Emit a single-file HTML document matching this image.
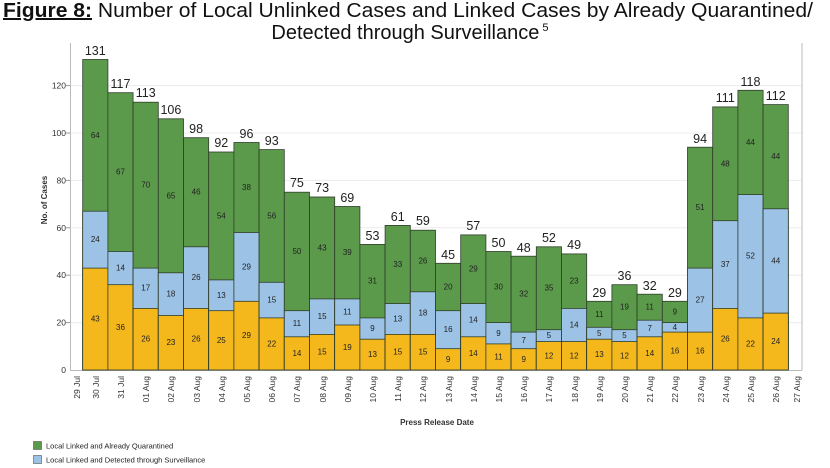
<!DOCTYPE html>
<html><head><meta charset="utf-8"><style>
html,body{margin:0;padding:0;background:#fff;}
svg{display:block;font-family:"Liberation Sans",sans-serif;}
.g{fill:#5b9a4b;stroke:#2f3d2a;stroke-width:0.8}
.b{fill:#9cc2e5;stroke:#2f3d2a;stroke-width:0.8}
.y{fill:#f5b81c;stroke:#2f3d2a;stroke-width:0.8}
.s{font-size:8px;fill:#222;text-anchor:middle;dominant-baseline:central}
.t{font-size:12.5px;fill:#222;text-anchor:middle}
.ax{font-size:8.5px;fill:#333}
</style></head><body>
<svg width="830" height="468" viewBox="0 0 830 468">
<text x="3" y="17" font-size="20" fill="#111" textLength="810" lengthAdjust="spacingAndGlyphs"><tspan font-weight="bold" text-decoration="underline">Figure 8:</tspan> Number of Local Unlinked Cases and Linked Cases by Already Quarantined/</text>
<text x="410" y="39" font-size="20" fill="#111" text-anchor="middle">Detected through Surveillance<tspan font-size="11" dy="-8"> 5</tspan></text>
<g stroke="#ececec" stroke-width="1">
<line x1="70" x2="802" y1="322.6" y2="322.6"/><line x1="70" x2="802" y1="275.2" y2="275.2"/>
<line x1="70" x2="802" y1="227.8" y2="227.8"/><line x1="70" x2="802" y1="180.4" y2="180.4"/>
<line x1="70" x2="802" y1="133" y2="133"/><line x1="70" x2="802" y1="85.6" y2="85.6"/>
</g>
<line x1="70.5" y1="43" x2="70.5" y2="370" stroke="#bbb"/>
<line x1="802" y1="43" x2="802" y2="370" stroke="#bbb"/>
<line x1="70" y1="370.5" x2="802" y2="370.5" stroke="#bbb"/>
<g class="ax" text-anchor="end">
<text x="66" y="373">0</text><text x="66" y="325.6">20</text><text x="66" y="278.2">40</text>
<text x="66" y="230.8">60</text><text x="66" y="183.4">80</text><text x="66" y="136">100</text><text x="66" y="88.6">120</text>
</g>
<g stroke="#999"><line x1="66" x2="70" y1="322.6" y2="322.6"/><line x1="66" x2="70" y1="275.2" y2="275.2"/><line x1="66" x2="70" y1="227.8" y2="227.8"/><line x1="66" x2="70" y1="180.4" y2="180.4"/><line x1="66" x2="70" y1="133" y2="133"/><line x1="66" x2="70" y1="85.6" y2="85.6"/></g>
<text transform="translate(47,200) rotate(-90)" font-size="8" font-weight="bold" fill="#333" text-anchor="middle">No. of Cases</text>

<g transform="translate(82.7,370)"><rect class="g" y="-310.5" width="25.2" height="310.5"/><rect class="b" y="-158.8" width="25.2" height="158.8"/><rect class="y" y="-101.9" width="25.2" height="101.9"/><text class="s" x="12.6" y="-50.9">43</text><text class="s" x="12.6" y="-130.4">24</text><text class="s" x="12.6" y="-234.7">64</text><text class="t" x="12.6" y="-315">131</text></g>
<g transform="translate(107.9,370)"><rect class="g" y="-277.3" width="25.2" height="277.3"/><rect class="b" y="-118.5" width="25.2" height="118.5"/><rect class="y" y="-85.3" width="25.2" height="85.3"/><text class="s" x="12.6" y="-42.7">36</text><text class="s" x="12.6" y="-101.9">14</text><text class="s" x="12.6" y="-197.9">67</text><text class="t" x="12.6" y="-282">117</text></g>
<g transform="translate(133.1,370)"><rect class="g" y="-267.8" width="25.2" height="267.8"/><rect class="b" y="-101.9" width="25.2" height="101.9"/><rect class="y" y="-61.6" width="25.2" height="61.6"/><text class="s" x="12.6" y="-30.8">26</text><text class="s" x="12.6" y="-81.8">17</text><text class="s" x="12.6" y="-184.9">70</text><text class="t" x="12.6" y="-273">113</text></g>
<g transform="translate(158.3,370)"><rect class="g" y="-251.2" width="25.2" height="251.2"/><rect class="b" y="-97.2" width="25.2" height="97.2"/><rect class="y" y="-54.5" width="25.2" height="54.5"/><text class="s" x="12.6" y="-27.3">23</text><text class="s" x="12.6" y="-75.9">18</text><text class="s" x="12.6" y="-174.2">65</text><text class="t" x="12.6" y="-256">106</text></g>
<g transform="translate(183.5,370)"><rect class="g" y="-232.3" width="25.2" height="232.3"/><rect class="b" y="-123.2" width="25.2" height="123.2"/><rect class="y" y="-61.6" width="25.2" height="61.6"/><text class="s" x="12.6" y="-30.8">26</text><text class="s" x="12.6" y="-92.4">26</text><text class="s" x="12.6" y="-177.8">46</text><text class="t" x="12.6" y="-237">98</text></g>
<g transform="translate(208.7,370)"><rect class="g" y="-218" width="25.2" height="218"/><rect class="b" y="-90.1" width="25.2" height="90.1"/><rect class="y" y="-59.3" width="25.2" height="59.3"/><text class="s" x="12.6" y="-29.7">25</text><text class="s" x="12.6" y="-74.7">13</text><text class="s" x="12.6" y="-154">54</text><text class="t" x="12.6" y="-223">92</text></g>
<g transform="translate(233.9,370)"><rect class="g" y="-227.5" width="25.2" height="227.5"/><rect class="b" y="-137.5" width="25.2" height="137.5"/><rect class="y" y="-68.7" width="25.2" height="68.7"/><text class="s" x="12.6" y="-34.4">29</text><text class="s" x="12.6" y="-103.1">29</text><text class="s" x="12.6" y="-182.5">38</text><text class="t" x="12.6" y="-232">96</text></g>
<g transform="translate(259.1,370)"><rect class="g" y="-220.4" width="25.2" height="220.4"/><rect class="b" y="-87.7" width="25.2" height="87.7"/><rect class="y" y="-52.1" width="25.2" height="52.1"/><text class="s" x="12.6" y="-26">22</text><text class="s" x="12.6" y="-69.9">15</text><text class="s" x="12.6" y="-154">56</text><text class="t" x="12.6" y="-225">93</text></g>
<g transform="translate(284.3,370)"><rect class="g" y="-177.8" width="25.2" height="177.8"/><rect class="b" y="-59.3" width="25.2" height="59.3"/><rect class="y" y="-33.2" width="25.2" height="33.2"/><text class="s" x="12.6" y="-16.6">14</text><text class="s" x="12.6" y="-46.3">11</text><text class="s" x="12.6" y="-118.6">50</text><text class="t" x="12.6" y="-183">75</text></g>
<g transform="translate(309.5,370)"><rect class="g" y="-173" width="25.2" height="173"/><rect class="b" y="-71.1" width="25.2" height="71.1"/><rect class="y" y="-35.6" width="25.2" height="35.6"/><text class="s" x="12.6" y="-17.8">15</text><text class="s" x="12.6" y="-53.4">15</text><text class="s" x="12.6" y="-122">43</text><text class="t" x="12.6" y="-178">73</text></g>
<g transform="translate(334.7,370)"><rect class="g" y="-163.5" width="25.2" height="163.5"/><rect class="b" y="-71.1" width="25.2" height="71.1"/><rect class="y" y="-45" width="25.2" height="45"/><text class="s" x="12.6" y="-22.5">19</text><text class="s" x="12.6" y="-58">11</text><text class="s" x="12.6" y="-117.3">39</text><text class="t" x="12.6" y="-168">69</text></g>
<g transform="translate(359.9,370)"><rect class="g" y="-125.6" width="25.2" height="125.6"/><rect class="b" y="-52.1" width="25.2" height="52.1"/><rect class="y" y="-30.8" width="25.2" height="30.8"/><text class="s" x="12.6" y="-15.4">13</text><text class="s" x="12.6" y="-41.5">9</text><text class="s" x="12.6" y="-88.9">31</text><text class="t" x="12.6" y="-130">53</text></g>
<g transform="translate(385.1,370)"><rect class="g" y="-144.6" width="25.2" height="144.6"/><rect class="b" y="-66.4" width="25.2" height="66.4"/><rect class="y" y="-35.6" width="25.2" height="35.6"/><text class="s" x="12.6" y="-17.8">15</text><text class="s" x="12.6" y="-51">13</text><text class="s" x="12.6" y="-105.5">33</text><text class="t" x="12.6" y="-149">61</text></g>
<g transform="translate(410.3,370)"><rect class="g" y="-139.8" width="25.2" height="139.8"/><rect class="b" y="-78.2" width="25.2" height="78.2"/><rect class="y" y="-35.6" width="25.2" height="35.6"/><text class="s" x="12.6" y="-17.8">15</text><text class="s" x="12.6" y="-56.9">18</text><text class="s" x="12.6" y="-109">26</text><text class="t" x="12.6" y="-145">59</text></g>
<g transform="translate(435.5,370)"><rect class="g" y="-106.7" width="25.2" height="106.7"/><rect class="b" y="-59.3" width="25.2" height="59.3"/><rect class="y" y="-21.3" width="25.2" height="21.3"/><text class="s" x="12.6" y="-10.7">9</text><text class="s" x="12.6" y="-40.3">16</text><text class="s" x="12.6" y="-83">20</text><text class="t" x="12.6" y="-111">45</text></g>
<g transform="translate(460.7,370)"><rect class="g" y="-135.1" width="25.2" height="135.1"/><rect class="b" y="-66.4" width="25.2" height="66.4"/><rect class="y" y="-33.2" width="25.2" height="33.2"/><text class="s" x="12.6" y="-16.6">14</text><text class="s" x="12.6" y="-49.8">14</text><text class="s" x="12.6" y="-100.8">29</text><text class="t" x="12.6" y="-140">57</text></g>
<g transform="translate(485.9,370)"><rect class="g" y="-118.5" width="25.2" height="118.5"/><rect class="b" y="-47.4" width="25.2" height="47.4"/><rect class="y" y="-26.1" width="25.2" height="26.1"/><text class="s" x="12.6" y="-13">11</text><text class="s" x="12.6" y="-36.7">9</text><text class="s" x="12.6" y="-83">30</text><text class="t" x="12.6" y="-123">50</text></g>
<g transform="translate(511.1,370)"><rect class="g" y="-113.8" width="25.2" height="113.8"/><rect class="b" y="-37.9" width="25.2" height="37.9"/><rect class="y" y="-21.3" width="25.2" height="21.3"/><text class="s" x="12.6" y="-10.7">9</text><text class="s" x="12.6" y="-29.6">7</text><text class="s" x="12.6" y="-75.8">32</text><text class="t" x="12.6" y="-118">48</text></g>
<g transform="translate(536.3,370)"><rect class="g" y="-123.2" width="25.2" height="123.2"/><rect class="b" y="-40.3" width="25.2" height="40.3"/><rect class="y" y="-28.4" width="25.2" height="28.4"/><text class="s" x="12.6" y="-14.2">12</text><text class="s" x="12.6" y="-34.4">5</text><text class="s" x="12.6" y="-81.8">35</text><text class="t" x="12.6" y="-128">52</text></g>
<g transform="translate(561.5,370)"><rect class="g" y="-116.1" width="25.2" height="116.1"/><rect class="b" y="-61.6" width="25.2" height="61.6"/><rect class="y" y="-28.4" width="25.2" height="28.4"/><text class="s" x="12.6" y="-14.2">12</text><text class="s" x="12.6" y="-45">14</text><text class="s" x="12.6" y="-88.9">23</text><text class="t" x="12.6" y="-121">49</text></g>
<g transform="translate(586.7,370)"><rect class="g" y="-68.7" width="25.2" height="68.7"/><rect class="b" y="-42.7" width="25.2" height="42.7"/><rect class="y" y="-30.8" width="25.2" height="30.8"/><text class="s" x="12.6" y="-15.4">13</text><text class="s" x="12.6" y="-36.7">5</text><text class="s" x="12.6" y="-55.7">11</text><text class="t" x="12.6" y="-73">29</text></g>
<g transform="translate(611.9,370)"><rect class="g" y="-85.3" width="25.2" height="85.3"/><rect class="b" y="-40.3" width="25.2" height="40.3"/><rect class="y" y="-28.4" width="25.2" height="28.4"/><text class="s" x="12.6" y="-14.2">12</text><text class="s" x="12.6" y="-34.4">5</text><text class="s" x="12.6" y="-62.8">19</text><text class="t" x="12.6" y="-90">36</text></g>
<g transform="translate(637.1,370)"><rect class="g" y="-75.8" width="25.2" height="75.8"/><rect class="b" y="-49.8" width="25.2" height="49.8"/><rect class="y" y="-33.2" width="25.2" height="33.2"/><text class="s" x="12.6" y="-16.6">14</text><text class="s" x="12.6" y="-41.5">7</text><text class="s" x="12.6" y="-62.8">11</text><text class="t" x="12.6" y="-80">32</text></g>
<g transform="translate(662.3,370)"><rect class="g" y="-68.7" width="25.2" height="68.7"/><rect class="b" y="-47.4" width="25.2" height="47.4"/><rect class="y" y="-37.9" width="25.2" height="37.9"/><text class="s" x="12.6" y="-19">16</text><text class="s" x="12.6" y="-42.7">4</text><text class="s" x="12.6" y="-58">9</text><text class="t" x="12.6" y="-73">29</text></g>
<g transform="translate(687.5,370)"><rect class="g" y="-222.8" width="25.2" height="222.8"/><rect class="b" y="-101.9" width="25.2" height="101.9"/><rect class="y" y="-37.9" width="25.2" height="37.9"/><text class="s" x="12.6" y="-19">16</text><text class="s" x="12.6" y="-69.9">27</text><text class="s" x="12.6" y="-162.4">51</text><text class="t" x="12.6" y="-227">94</text></g>
<g transform="translate(712.7,370)"><rect class="g" y="-263.1" width="25.2" height="263.1"/><rect class="b" y="-149.3" width="25.2" height="149.3"/><rect class="y" y="-61.6" width="25.2" height="61.6"/><text class="s" x="12.6" y="-30.8">26</text><text class="s" x="12.6" y="-105.5">37</text><text class="s" x="12.6" y="-206.2">48</text><text class="t" x="12.6" y="-268">111</text></g>
<g transform="translate(737.9,370)"><rect class="g" y="-279.7" width="25.2" height="279.7"/><rect class="b" y="-175.4" width="25.2" height="175.4"/><rect class="y" y="-52.1" width="25.2" height="52.1"/><text class="s" x="12.6" y="-26">22</text><text class="s" x="12.6" y="-113.8">52</text><text class="s" x="12.6" y="-227.5">44</text><text class="t" x="12.6" y="-284">118</text></g>
<g transform="translate(763.1,370)"><rect class="g" y="-265.4" width="25.2" height="265.4"/><rect class="b" y="-161.2" width="25.2" height="161.2"/><rect class="y" y="-56.9" width="25.2" height="56.9"/><text class="s" x="12.6" y="-28.4">24</text><text class="s" x="12.6" y="-109">44</text><text class="s" x="12.6" y="-213.3">44</text><text class="t" x="12.6" y="-270">112</text></g>

<g class="ax" text-anchor="end">
<text transform="translate(80,376) rotate(-90)">29 Jul</text>
<text transform="translate(99,376) rotate(-90)">30 Jul</text>
<text transform="translate(124,376) rotate(-90)">31 Jul</text>
<text transform="translate(149,376) rotate(-90)">01 Aug</text>
<text transform="translate(174,376) rotate(-90)">02 Aug</text>
<text transform="translate(200,376) rotate(-90)">03 Aug</text>
<text transform="translate(225,376) rotate(-90)">04 Aug</text>
<text transform="translate(250,376) rotate(-90)">05 Aug</text>
<text transform="translate(275,376) rotate(-90)">06 Aug</text>
<text transform="translate(300,376) rotate(-90)">07 Aug</text>
<text transform="translate(326,376) rotate(-90)">08 Aug</text>
<text transform="translate(351,376) rotate(-90)">09 Aug</text>
<text transform="translate(376,376) rotate(-90)">10 Aug</text>
<text transform="translate(401,376) rotate(-90)">11 Aug</text>
<text transform="translate(426,376) rotate(-90)">12 Aug</text>
<text transform="translate(452,376) rotate(-90)">13 Aug</text>
<text transform="translate(477,376) rotate(-90)">14 Aug</text>
<text transform="translate(502,376) rotate(-90)">15 Aug</text>
<text transform="translate(527,376) rotate(-90)">16 Aug</text>
<text transform="translate(552,376) rotate(-90)">17 Aug</text>
<text transform="translate(578,376) rotate(-90)">18 Aug</text>
<text transform="translate(603,376) rotate(-90)">19 Aug</text>
<text transform="translate(628,376) rotate(-90)">20 Aug</text>
<text transform="translate(653,376) rotate(-90)">21 Aug</text>
<text transform="translate(678,376) rotate(-90)">22 Aug</text>
<text transform="translate(704,376) rotate(-90)">23 Aug</text>
<text transform="translate(729,376) rotate(-90)">24 Aug</text>
<text transform="translate(754,376) rotate(-90)">25 Aug</text>
<text transform="translate(779,376) rotate(-90)">26 Aug</text>
<text transform="translate(800,376) rotate(-90)">27 Aug</text>
</g>
<text x="437" y="425" font-size="8" font-weight="bold" fill="#333" text-anchor="middle">Press Release Date</text>
<rect x="33.5" y="441.5" width="8" height="8" fill="#5b9a4b" stroke="#555" stroke-width="0.6"/>
<text x="46" y="448.5" font-size="7.5" fill="#222">Local Linked and Already Quarantined</text>
<rect x="33.5" y="455.5" width="8" height="8" fill="#9cc2e5" stroke="#555" stroke-width="0.6"/>
<text x="46" y="462.5" font-size="7.5" fill="#222">Local Linked and Detected through Surveillance</text>
</svg>
</body></html>
